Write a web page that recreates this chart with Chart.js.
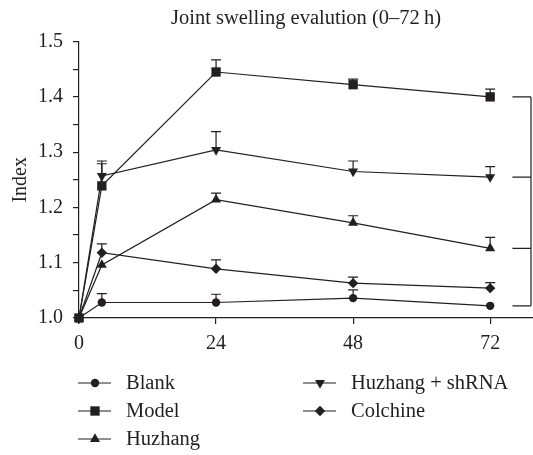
<!DOCTYPE html>
<html>
<head>
<meta charset="utf-8">
<script src="https://cdn.jsdelivr.net/npm/chart.js@4"></script>
<style>
html, body { margin: 0; padding: 0; background: #fff; }
#wrap { width: 533px; height: 455px; position: relative; }
</style>
</head>
<body>
<div id="wrap"><canvas id="swellChart"></canvas></div>
<script>
/* data */
const hours = [0, 4, 24, 48, 72];
const xTicks = [0, 24, 48, 72];

const blank = [1.0, 1.028, 1.028, 1.036, 1.022];
const blankErr = [0, 0.016, 0.015, 0.015, 0];
const model = [1.0, 1.239, 1.445, 1.422, 1.400];
const modelErr = [0, 0.045, 0.022, 0.010, 0.014];
const huzhang = [1.0, 1.096, 1.214, 1.172, 1.126];
const huzhangErr = [0, 0, 0.012, 0.013, 0.020];
const shrna = [1.0, 1.257, 1.304, 1.265, 1.255];
const shrnaErr = [0, 0.022, 0.033, 0.019, 0.019];
const colchine = [1.0, 1.118, 1.089, 1.063, 1.054];
const colchineErr = [0, 0.016, 0.016, 0.011, 0.010];

const ink = '#231f20';
const serif = '"Liberation Serif", "DejaVu Serif", serif';

function series(label, vals, errs, style, radius, rot) {
  return {
    label: label,
    data: hours.map((h, i) => ({ x: h, y: vals[i] })),
    errors: errs,
    borderColor: ink,
    backgroundColor: ink,
    borderWidth: 1.2,
    pointStyle: style,
    pointRadius: radius,
    pointRotation: rot || 0,
    pointBackgroundColor: ink,
    pointBorderColor: ink,
    pointBorderWidth: 0,
    clip: false,
    tension: 0
  };
}

const datasets = [
  series('Blank', blank, blankErr, 'circle', 4.2),
  series('Model', model, modelErr, 'rect', 6.6),
  series('Huzhang', huzhang, huzhangErr, 'triangle', 5.8),
  series('Huzhang + shRNA', shrna, shrnaErr, 'triangle', 5.8, 180),
  series('Colchine', colchine, colchineErr, 'rectRot', 5.2)
];

// upward error bars with caps
const errorBars = {
  id: 'errorBars',
  beforeDatasetsDraw(chart) {
    const c = chart.ctx, ys = chart.scales.y;
    c.save();
    c.strokeStyle = ink;
    c.lineWidth = 1.2;
    chart.data.datasets.forEach((ds, i) => {
      chart.getDatasetMeta(i).data.forEach((pt, j) => {
        const e = ds.errors[j];
        if (!e) return;
        const top = ys.getPixelForValue(ds.data[j].y + e);
        c.beginPath();
        c.moveTo(pt.x, pt.y);
        c.lineTo(pt.x, top);
        c.moveTo(pt.x - 5, top);
        c.lineTo(pt.x + 5, top);
        c.stroke();
      });
    });
    c.restore();
  }
};

// bracket at the right joining the 72 h values
const bracketSets = ['Model', 'Huzhang + shRNA', 'Huzhang', 'Blank'];
const bracket = {
  id: 'bracket',
  afterDraw(chart) {
    const c = chart.ctx, xs = chart.scales.x, ys = chart.scales.y;
    const x1 = xs.getPixelForValue(75.9);
    const x2 = chart.chartArea.right - 2;
    const lvls = bracketSets.map(n => {
      const ds = chart.data.datasets.find(d => d.label === n);
      return ys.getPixelForValue(ds.data[ds.data.length - 1].y);
    });
    c.save();
    c.strokeStyle = ink;
    c.lineWidth = 1.2;
    c.beginPath();
    lvls.forEach(y => { c.moveTo(x1, y); c.lineTo(x2, y); });
    c.moveTo(x2, Math.min(...lvls));
    c.lineTo(x2, Math.max(...lvls));
    c.stroke();
    c.restore();
  }
};

// two-column legend below the axis
const legendBox = {
  id: 'legendBox',
  afterDraw(chart) {
    const c = chart.ctx, area = chart.chartArea;
    c.save();
    c.font = '20.5px ' + serif;
    c.textBaseline = 'middle';
    c.fillStyle = ink;
    chart.data.datasets.forEach((ds, i) => {
      const col = i < 3 ? 0 : 1;
      const row = i < 3 ? i : i - 3;
      const x0 = area.left - 1 + col * 225;
      const y0 = area.bottom + 65 + row * 28;
      c.strokeStyle = ink;
      c.lineWidth = 1.2;
      c.beginPath();
      c.moveTo(x0, y0);
      c.lineTo(x0 + 33, y0);
      c.stroke();
      Chart.helpers.drawPoint(c, {
        pointStyle: ds.pointStyle, radius: ds.pointRadius,
        rotation: ds.pointRotation, borderWidth: 0
      }, x0 + 17, y0);
      c.fillText(ds.label, x0 + 48, y0 + 1);
    });
    c.restore();
  }
};

new Chart(document.getElementById('swellChart'), {
  type: 'line',
  data: { datasets: datasets },
  plugins: [errorBars, bracket, legendBox],
  options: {
    responsive: true,
    maintainAspectRatio: false,
    animation: false,
    layout: { autoPadding: false, padding: { left: 0, right: 0, top: 0, bottom: 101 } },
    plugins: {
      legend: { display: false },
      tooltip: { enabled: false },
      title: {
        display: true,
        text: 'Joint swelling evalution (0\u201372\u2009h)',
        color: ink,
        fullSize: false,
        font: { family: serif, size: 20.5, weight: 'normal' },
        padding: { top: 6, bottom: 11 }
      }
    },
    scales: {
      x: {
        type: 'linear',
        min: 0,
        max: 79.5,
        afterBuildTicks(s) { s.ticks = xTicks.map(v => ({ value: v })); },
        afterFit(s) { s.height = 36; s.paddingLeft = 0; s.paddingRight = 0; },
        border: { display: true, color: ink, width: 1.2 },
        grid: { display: true, drawOnChartArea: false, drawTicks: true, tickLength: 6, color: ink, lineWidth: 1.2 },
        ticks: { color: ink, padding: 8, font: { family: serif, size: 20 } }
      },
      y: {
        min: 1.0,
        max: 1.5,
        afterFit(s) { s.width = 79; },
        border: { display: true, color: ink, width: 1.2 },
        grid: { display: true, drawOnChartArea: false, drawTicks: true, tickLength: 6, color: ink, lineWidth: 1.2 },
        ticks: {
          stepSize: 0.05,
          color: ink,
          padding: 10,
          font: { family: serif, size: 20 },
          callback: v => (Math.round(v * 100) % 10 === 0 ? v.toFixed(1) : '')
        },
        title: {
          display: true,
          text: 'Index',
          color: ink,
          font: { family: serif, size: 20 },
          padding: { top: 9, bottom: 3 }
        }
      }
    }
  }
});
</script>
</body>
</html>
